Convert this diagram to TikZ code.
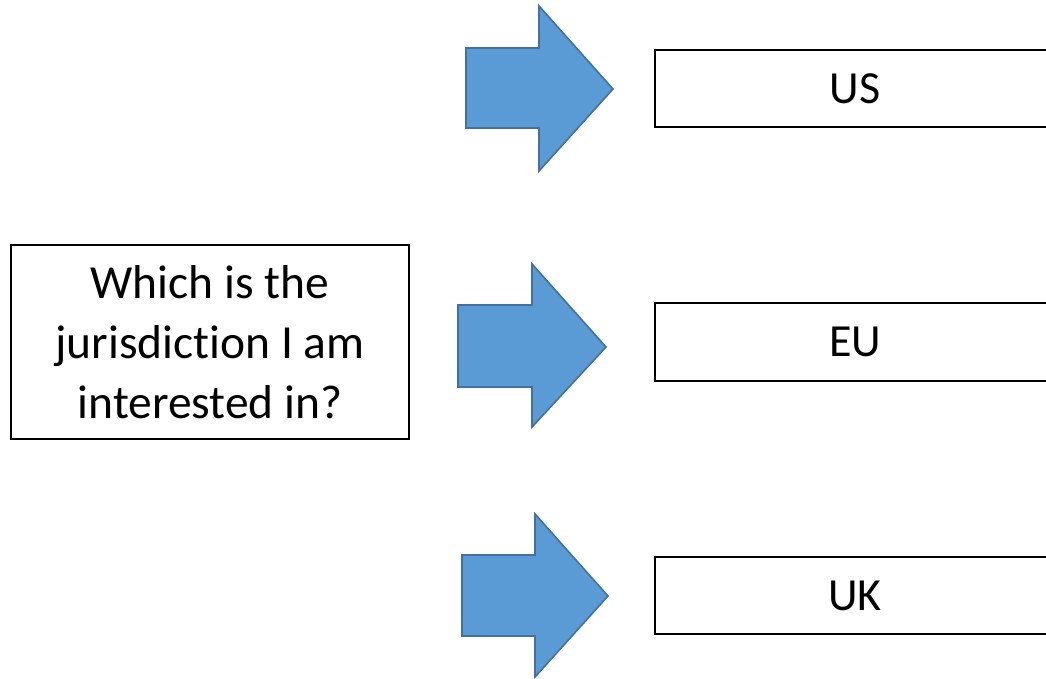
\documentclass[tikz,border=0pt]{standalone}
\usepackage{fontspec}
\setmainfont[Ligatures=NoCommon]{Carlito}
\definecolor{arrowfill}{HTML}{5B9BD5}
\definecolor{arrowline}{HTML}{41719C}
\begin{document}
\begin{tikzpicture}[x=1pt,y=-1pt,
  box/.style={draw=black,line width=1.3pt,fill=white,inner sep=0pt,align=center},
  bigtext/.style={font=\fontsize{47.5}{60}\selectfont},
  smalltext/.style={font=\fontsize{46}{59}\selectfont},
  blockarrow/.style={fill=arrowfill,draw=arrowline,line width=1.6pt,line join=miter}]
\clip (0,0) rectangle (1046,679);
\fill[white] (0,0) rectangle (1046,679);

% question box
\node[box,bigtext,minimum width=398pt,minimum height=194pt] (q) at (210,342)
  {Which is the\\jurisdiction I am\\interested in?};

% jurisdiction boxes (run off the right edge)
\node[box,smalltext,minimum width=400pt,minimum height=77pt] (us) at (855,88.5) {US};
\node[box,smalltext,minimum width=400pt,minimum height=78pt] (eu) at (855,342) {EU};
\node[box,smalltext,minimum width=400pt,minimum height=77pt] (uk) at (855,595.5) {UK};

% block arrows
\draw[blockarrow] (466,48) -- (539,48) -- (539,6) -- (613,89) -- (539,171)
  -- (539,128) -- (466,128) -- cycle;
\draw[blockarrow] (458,305) -- (532,305) -- (532,264) -- (606,347) -- (532,427)
  -- (532,387) -- (458,387) -- cycle;
\draw[blockarrow] (462,555) -- (535,555) -- (535,514) -- (608,596) -- (535,677)
  -- (535,636) -- (462,636) -- cycle;
\end{tikzpicture}
\end{document}
